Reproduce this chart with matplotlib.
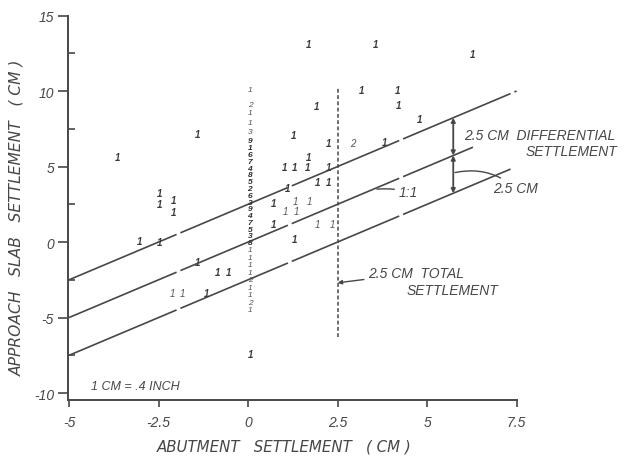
import matplotlib
matplotlib.use("Agg")
import matplotlib.pyplot as plt
import numpy as np

# ---------------- data ----------------
# single observations (plotted as the count "1")
pts_x = [-1.42, -3.66, -2.46, -2.46, -2.07, -2.09, -3.04, -2.46, -1.42, -0.84, -0.56,
         -1.17, 0.08, 1.68, 3.55, 6.28, 3.16, 4.16, 4.19, 1.90, 4.78, 1.28, 2.26, 3.80,
         1.68, 1.03, 1.31, 1.65, 2.26, 1.93, 2.26, 1.09, 0.70, 0.70, 1.31]
pts_y = [7.15, 5.6, 3.25, 2.5, 2.8, 2.0, 0.07, 0.0, -1.3, -2.0, -2.0,
         -3.4, -7.4, 13.1, 13.1, 12.45, 10.1, 10.1, 9.07, 9.0, 8.15, 7.1, 6.56, 6.6,
         5.6, 5.0, 5.0, 5.0, 5.0, 4.0, 4.0, 3.6, 2.6, 1.2, 0.2]
# lightly lettered observations
thin_x = [-2.10, -1.84, 1.31, 1.70, 1.03, 1.34, 1.95, 2.35]
thin_y = [-3.4, -3.4, 2.7, 2.7, 2.05, 2.05, 1.2, 1.2]
thin_lab = ['1', '1', '1', '1', '1', '1', '1', '1']
# other multi-count labels
multi_x = [2.93]
multi_y = [6.56]
multi_lab = ['2']
# stacked observations at zero abutment settlement
col_y = [10.1, 9.1, 8.6, 7.9, 7.35, 6.7, 6.25, 5.8, 5.35, 4.9, 4.45, 4.0, 3.55,
         3.1, 2.65, 2.2, 1.75, 1.3, 0.85, 0.4, 0.0, -0.5, -1.0, -1.5, -2.0,
         -2.5, -3.0, -3.5, -4.0, -4.5]
col_lab = ['1', '2', '1', '1', '3', '9', '1', '6', '7', '4', '8', '5', '2',
           '6', '3', '9', '4', '7', '5', '3', '8', '1', '1', '1', '1',
           '2', '1', '1', '2', '1']

# reference lines y = x + offset
line_offsets = [2.5, 0.0, -2.5]
line_x_end = [7.5, 6.28, 7.4]

x_ticks = [-5, -2.5, 0, 2.5, 5, 7.5]
x_ticklabels = ['-5', '-2.5', '0', '2.5', '5', '7.5']
y_ticks = [-10, -5, 0, 5, 10, 15]
y_ticklabels = ['-10', '-5', '0', '5', '10', '15']

# ---------------- drawing ----------------
INK = '#474747'
FONT = ['Liberation Sans', 'DejaVu Sans']
WIDE = ['DejaVu Sans']
plt.rcParams['font.family'] = FONT
plt.rcParams['font.style'] = 'italic'

fig = plt.figure(figsize=(6.36, 4.60), dpi=100)
ax = fig.add_axes([68/636, 1 - 401/460, (522-68)/636, (401-15)/460])
ax.set_xlim(-5.03, 7.65)
ax.set_ylim(-10.46, 15.1)

for s in ['top', 'right']:
    ax.spines[s].set_visible(False)
for s in ['left', 'bottom']:
    ax.spines[s].set_color(INK)
    ax.spines[s].set_linewidth(1.4)
ax.spines['left'].set_bounds(-10.46, 15)
ax.spines['bottom'].set_bounds(-5.03, 7.5)

ax.set_xticks(x_ticks)
ax.set_xticklabels(x_ticklabels)
ax.set_yticks(y_ticks)
ax.set_yticklabels(y_ticklabels)
ax.set_yticks([-7.5, -2.5, 2.5, 7.5, 12.5], minor=True)
ax.tick_params(axis='x', direction='out', length=5, width=1.2, color=INK,
               labelsize=10, labelcolor=INK, pad=6)
ax.tick_params(axis='y', which='major', direction='out', length=7, width=1.2,
               color=INK, labelsize=10, labelcolor=INK, pad=3)
ax.tick_params(axis='y', which='minor', direction='in', length=5, width=1.2, color=INK)
for lab in ax.get_xticklabels() + ax.get_yticklabels():
    lab.set_fontstyle('italic')

# reference lines
for off, xe in zip(line_offsets, line_x_end):
    xs = np.array([-5.0, xe])
    ax.plot(xs, xs + off, color=INK, lw=1.2, linestyle=(0, (70, 2.5)), zorder=2)

# 2.5 cm total settlement line
ax.plot([2.5, 2.5], [-6.3, 10.2], color=INK, lw=1.1, linestyle=(0, (2.5, 1.6)), zorder=2)

# data marks
for x, y in zip(pts_x, pts_y):
    ax.text(x, y, '1', fontsize=7, fontweight='bold', color='#3a3a3a',
            ha='center', va='center', zorder=3)
for x, y, t in zip(thin_x, thin_y, thin_lab):
    ax.text(x, y, t, fontsize=7, color='#555555', ha='center', va='center', zorder=3)
for x, y, t in zip(multi_x, multi_y, multi_lab):
    ax.text(x, y, t, fontsize=7, color='#555555', ha='center', va='center', zorder=3)
for y, t in zip(col_y, col_lab):
    heavy = y < 7.0 and y > -0.2
    ax.text(0.05, y, t, fontsize=6, color='#2e2e2e' if heavy else '#505050',
            fontweight='bold' if heavy else 'normal', ha='center', va='center', zorder=3)

# differential settlement arrows
xa = 5.73
ax.annotate('', xy=(xa, xa + 2.5), xytext=(xa, xa),
            arrowprops=dict(arrowstyle='<|-|>', color=INK, lw=1.3,
                            mutation_scale=6, shrinkA=0, shrinkB=0))
ax.annotate('', xy=(xa, xa - 2.5), xytext=(xa, xa),
            arrowprops=dict(arrowstyle='<|-|>', color=INK, lw=1.3,
                            mutation_scale=6, shrinkA=0, shrinkB=0))

tkw = dict(color=INK, fontsize=10, fontstyle='italic')
ax.text(6.04, 7.1, '2.5 CM  DIFFERENTIAL', ha='left', va='center', **tkw)
ax.text(10.3, 6.0, 'SETTLEMENT', ha='right', va='center', **tkw)
ax.annotate('2.5 CM', xy=(xa + 0.05, 4.6), xytext=(6.85, 3.55),
            ha='left', va='center', **tkw,
            arrowprops=dict(arrowstyle='-', color=INK, lw=1.0,
                            connectionstyle='arc3,rad=0.25', shrinkA=1, shrinkB=0))
ax.annotate('1:1', xy=(3.6, 3.5), xytext=(4.2, 3.3),
            ha='left', va='center', **tkw,
            arrowprops=dict(arrowstyle='-', color=INK, lw=1.0,
                            connectionstyle='arc3,rad=0.1', shrinkA=1, shrinkB=0))
ax.annotate('2.5 CM  TOTAL', xy=(2.5, -2.7), xytext=(3.35, -2.05),
            ha='left', va='center', **tkw,
            arrowprops=dict(arrowstyle='-|>', color=INK, lw=1.0, mutation_scale=6,
                            connectionstyle='arc3,rad=0.0', shrinkA=1, shrinkB=0))
ax.text(7.0, -3.2, 'SETTLEMENT', ha='right', va='center', **tkw)
ax.text(-4.38, -9.5, '1 CM = .4 INCH', ha='left', va='center', color=INK,
        fontsize=9, fontstyle='italic')

fig.text(284/636, 1 - 447/460, 'ABUTMENT   SETTLEMENT   ( CM )', ha='center',
         va='center', color=INK, fontsize=10.8, fontstyle='italic', family=WIDE)
fig.text(17/636, 1 - 218/460, 'APPROACH   SLAB   SETTLEMENT   ( CM )', ha='center',
         va='center', rotation=90, color=INK, fontsize=11.2, fontstyle='italic',
         family=WIDE)

fig.savefig('out.png', dpi=100)
